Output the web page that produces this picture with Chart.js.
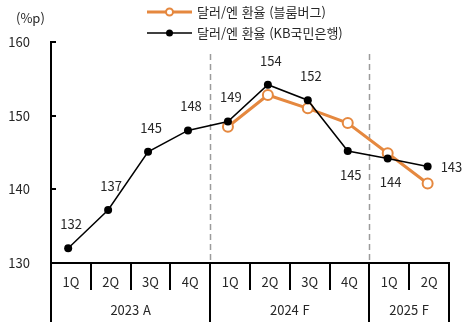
<!DOCTYPE html>
<html lang="ko">
<head>
<meta charset="UTF-8">
<title>달러/엔 환율 전망</title>
<script src="https://cdn.jsdelivr.net/npm/chart.js"></script>
<style>
    body { margin: 0; background: #fff; }
    #wrap { width: 464px; height: 322px; }
</style>
</head>
<body>
<div id="wrap"><canvas id="fxChart" width="464" height="322"></canvas></div>
<script>
    // chart data
    const quarters = ['1Q', '2Q', '3Q', '4Q', '1Q', '2Q', '3Q', '4Q', '1Q', '2Q'];
    const yearLabels = ['2023 A', '2024 F', '2025 F'];
    const yearSpans = [4, 4, 2];
    const bloomberg = [null, null, null, null, 148.5, 152.8, 151.0, 149.0, 144.9, 140.8];
    const kbBank = [132.0, 137.2, 145.1, 148.0, 149.2, 154.2, 152.1, 145.2, 144.2, 143.1];
    const kbLabels = ['132', '137', '145', '148', '149', '154', '152', '145', '144', '143'];
    const kbLabelSide = ['top', 'top', 'top', 'top', 'top', 'top', 'top', 'bottom', 'bottom', 'right'];
    const yTicks = [130, 140, 150, 160];
    const seriesNames = ['달러/엔 환율 (블룸버그)', '달러/엔 환율 (KB국민은행)'];

    const FONT = "'Noto Sans CJK KR', 'Noto Sans', sans-serif";
    const ORANGE = '#E5883F';
    const TEXT = '#262626';

    function toPoints(arr) {
        return arr.map((v, i) => ({ x: i, y: v })).filter(p => p.y !== null);
    }

    // x pixel of the boundary before category i
    function boundary(scale, i) {
        return scale.left + i * scale.width / quarters.length;
    }

    const decor = {
        id: 'decor',
        beforeDatasetsDraw(chart) {
            const { ctx, chartArea, scales } = chart;
            ctx.save();
            ctx.strokeStyle = '#9c9c9c';
            ctx.lineWidth = 1.5;
            ctx.setLineDash([6, 4]);
            let idx = 0;
            yearSpans.slice(0, -1).forEach(n => {
                idx += n;
                const px = Math.round(boundary(scales.x, idx)) + 0.5;
                ctx.beginPath();
                ctx.moveTo(px, chartArea.top + 12);
                ctx.lineTo(px, chartArea.bottom);
                ctx.stroke();
            });
            ctx.restore();
        },
        afterDatasetsDraw(chart) {
            const { ctx } = chart;
            const meta = chart.getDatasetMeta(0);
            ctx.save();
            ctx.font = '13px ' + FONT;
            ctx.fillStyle = TEXT;
            meta.data.forEach((pt, i) => {
                const side = kbLabelSide[i];
                if (side === 'right') {
                    ctx.textAlign = 'left';
                    ctx.textBaseline = 'middle';
                    ctx.fillText(kbLabels[i], pt.x + 13, pt.y + 1);
                } else {
                    ctx.textAlign = 'center';
                    ctx.textBaseline = 'middle';
                    ctx.fillText(kbLabels[i], pt.x + 3, pt.y + (side === 'top' ? -24 : 24));
                }
            });
            ctx.restore();
        },
        afterDraw(chart) {
            const { ctx, scales } = chart;
            const x = scales.x, y = scales.y;
            const H = chart.height;
            ctx.save();
            ctx.strokeStyle = '#000';
            ctx.lineWidth = 2;

            // inner ticks on the y axis
            y.ticks.forEach(t => {
                if (t.value === y.min) return;
                const py = Math.round(y.getPixelForValue(t.value));
                ctx.beginPath();
                ctx.moveTo(y.right, py);
                ctx.lineTo(y.right + 5, py);
                ctx.stroke();
            });

            // quarter separators
            for (let i = 0; i <= quarters.length; i++) {
                const px = Math.round(boundary(x, i));
                ctx.beginPath();
                ctx.moveTo(px, x.top);
                ctx.lineTo(px, x.top + 27);
                ctx.stroke();
            }

            // year groups
            ctx.font = '13px ' + FONT;
            ctx.fillStyle = TEXT;
            ctx.textAlign = 'center';
            ctx.textBaseline = 'middle';
            let start = 0;
            yearSpans.forEach((n, g) => {
                const a = boundary(x, start), b = boundary(x, start + n);
                ctx.fillText(yearLabels[g], (a + b) / 2, x.top + 47);
                start += n;
            });
            let idx = 0;
            [0].concat(yearSpans).forEach(n => {
                idx += n;
                const px = Math.round(boundary(x, idx));
                ctx.beginPath();
                ctx.moveTo(px, x.top);
                ctx.lineTo(px, H);
                ctx.stroke();
            });

            // unit
            ctx.textAlign = 'left';
            ctx.fillText('(%p)', 16, 18);

            // legend
            const lx = 147, lw = 45;
            ctx.strokeStyle = ORANGE;
            ctx.lineWidth = 3;
            ctx.beginPath();
            ctx.moveTo(lx, 12);
            ctx.lineTo(lx + lw, 12);
            ctx.stroke();
            ctx.fillStyle = '#fff';
            ctx.lineWidth = 2;
            ctx.beginPath();
            ctx.arc(lx + lw / 2, 12, 3.5, 0, Math.PI * 2);
            ctx.fill();
            ctx.stroke();

            ctx.strokeStyle = '#000';
            ctx.lineWidth = 1.5;
            ctx.beginPath();
            ctx.moveTo(lx, 33);
            ctx.lineTo(lx + lw, 33);
            ctx.stroke();
            ctx.fillStyle = '#000';
            ctx.beginPath();
            ctx.arc(lx + lw / 2, 33, 3.5, 0, Math.PI * 2);
            ctx.fill();

            ctx.fillStyle = TEXT;
            ctx.fillText(seriesNames[0], 197, 12);
            ctx.fillText(seriesNames[1], 197, 33);
            ctx.restore();
        }
    };

    new Chart(document.getElementById('fxChart'), {
        type: 'line',
        data: {
            labels: quarters,
            datasets: [
                {
                    label: seriesNames[1],
                    data: toPoints(kbBank),
                    xAxisID: 'xl',
                    borderColor: '#000',
                    borderWidth: 1.5,
                    pointRadius: 4,
                    pointBackgroundColor: '#000',
                    pointBorderWidth: 0,
                    order: 1
                },
                {
                    label: seriesNames[0],
                    data: toPoints(bloomberg),
                    xAxisID: 'xl',
                    borderColor: ORANGE,
                    borderWidth: 3,
                    pointRadius: 5,
                    pointBackgroundColor: '#fff',
                    pointBorderColor: ORANGE,
                    pointBorderWidth: 2,
                    order: 2
                }
            ]
        },
        options: {
            responsive: false,
            animation: false,
            layout: { padding: { top: 42, right: 15, left: 0, bottom: 0 } },
            plugins: { legend: { display: false }, tooltip: { enabled: false } },
            scales: {
                x: {
                    type: 'category',
                    offset: true,
                    grid: { display: false },
                    border: { display: true, color: '#000', width: 2 },
                    ticks: { color: TEXT, font: { family: FONT, size: 13 }, padding: 3, maxRotation: 0, autoSkip: false },
                    afterFit: s => { s.height = 59; }
                },
                xl: {
                    type: 'linear',
                    display: false,
                    min: -0.43,
                    max: 9.535
                },
                y: {
                    min: yTicks[0],
                    max: yTicks[yTicks.length - 1],
                    afterBuildTicks: s => { s.ticks = yTicks.map(v => ({ value: v })); },
                    grid: { display: false },
                    border: { display: true, color: '#000', width: 2 },
                    ticks: { color: TEXT, font: { family: FONT, size: 13 }, padding: 13 },
                    afterFit: s => { s.width = 51; }
                }
            }
        },
        plugins: [decor]
    });
</script>
</body>
</html>
